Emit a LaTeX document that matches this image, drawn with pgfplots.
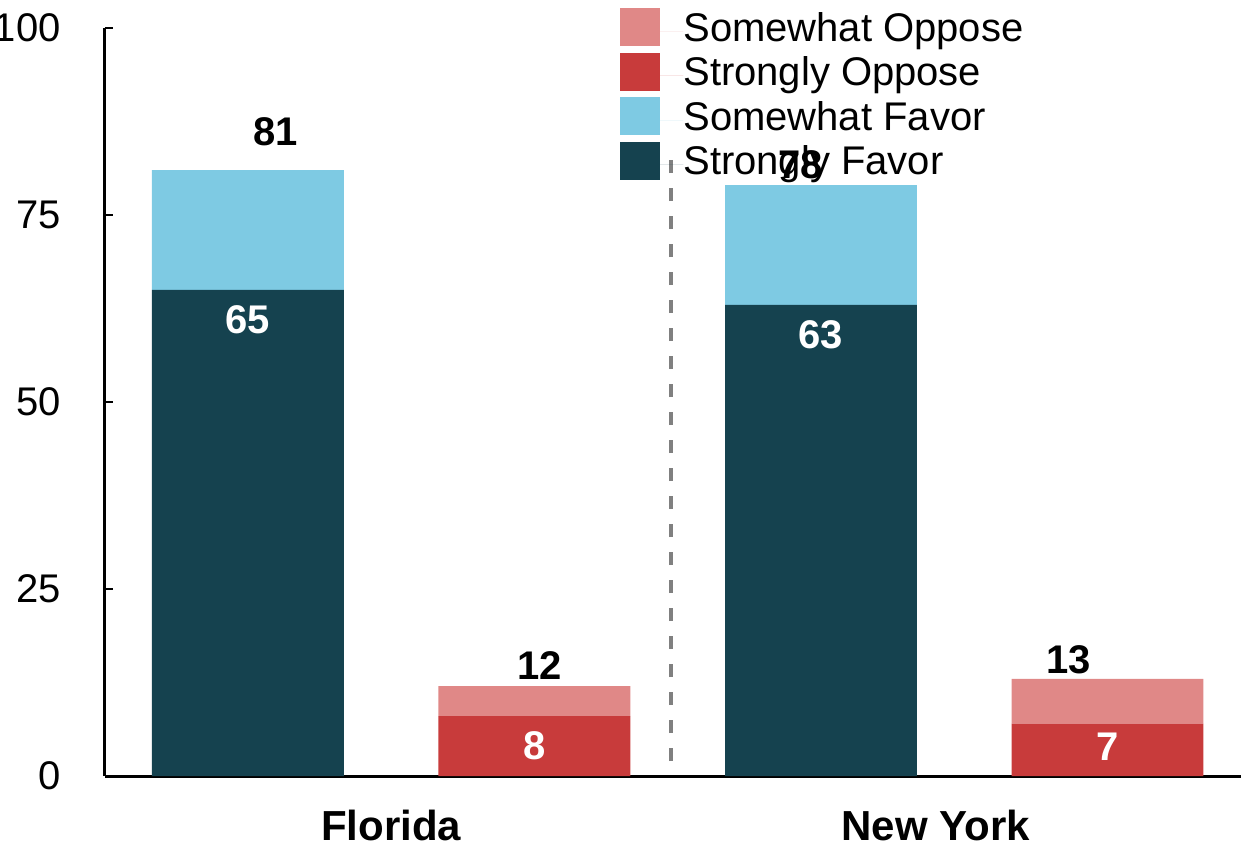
\documentclass[border=0pt]{standalone}
\usepackage{pgfplots}
\usepackage{pgfplotstable}
\pgfplotsset{compat=1.18}
\usepackage{fontspec}
\setmainfont{Liberation Sans}
\definecolor{sfavor}{HTML}{15424F}
\definecolor{wfavor}{HTML}{7ECAE3}
\definecolor{soppose}{HTML}{C83B3B}
\definecolor{woppose}{HTML}{E08887}
\tikzset{lbl/.style={font=\fontsize{20}{24}\selectfont\bfseries}}
\pgfplotstableread{
x y
0 65
1 0
2 63
3 0
}\strongfavor
\pgfplotstableread{
x y
0 16
1 0
2 16
3 0
}\somefavor
\pgfplotstableread{
x y
0 0
1 8
2 0
3 7
}\strongoppose
\pgfplotstableread{
x y
0 0
1 4
2 0
3 6
}\someoppose
\begin{document}
\begin{tikzpicture}
\begin{axis}[
  name=ax,
  scale only axis,
  width=568pt, height=374pt,
  xmin=-0.499, xmax=3.466,
  ymin=0, ymax=100,
  ybar stacked,
  bar width=0.67,
  axis x line*=bottom,
  axis y line*=left,
  axis line style={line width=1.5pt, black},
  ytick={0,25,50,75,100},
  tick align=inside,
  major tick length=4pt,
  ytick style={line width=1pt, black},
  xtick={0.5,2.4},
  xticklabels={Florida,New York},
  xtick style={draw=none},
  xticklabel style={font=\fontsize{21}{24}\selectfont\bfseries, anchor=center, yshift=-24.5pt},
  yticklabel style={font=\fontsize{20}{24}\selectfont, anchor=east, inner sep=0pt, xshift=-22pt},
  /pgf/number format/assume math mode=true,
  clip=false,
  legend style={
    at={(0.4533,1.0267)}, anchor=north west, draw=none, fill=none,
    inner sep=0pt, row sep=1.2pt,
    font=\fontsize{20}{24}\selectfont,
    nodes={inner sep=0pt, text height=14.5pt, text depth=4.5pt},
  },
  legend cell align=left,
  reverse legend,
  legend image code/.code={\fill[#1] (0pt,-7.5pt) rectangle (20pt,11.5pt); \path (0pt,0pt) -- (31.5pt,0pt);},
]
\addplot[fill=sfavor, draw=none] table[x=x, y=y] {\strongfavor};
\addlegendentry{Strongly Favor}
\addplot[fill=wfavor, draw=none] table[x=x, y=y] {\somefavor};
\addlegendentry{Somewhat Favor}
\addplot[fill=soppose, draw=none] table[x=x, y=y] {\strongoppose};
\addlegendentry{Strongly Oppose}
\addplot[fill=woppose, draw=none] table[x=x, y=y] {\someoppose};
\addlegendentry{Somewhat Oppose}
\draw[color=gray, line width=2pt, dash pattern=on 6.5pt off 7.5pt] (axis cs:1.478,2) -- (axis cs:1.478,83);
\coordinate (t81) at (axis cs:0.097,86.1);
\coordinate (t78) at (axis cs:1.929,81.7);
\coordinate (t12) at (axis cs:1.018,14.8);
\coordinate (t13) at (axis cs:2.865,15.5);
\coordinate (s65) at (axis cs:0,61.0);
\coordinate (s63) at (axis cs:2,59.0);
\coordinate (s8) at (axis cs:1,4.0);
\coordinate (s7) at (axis cs:3,3.9);
\end{axis}
\node[lbl] at (t81) {81};
\node[lbl] at (t78) {78};
\node[lbl] at (t12) {12};
\node[lbl] at (t13) {13};
\node[lbl,text=white] at (s65) {65};
\node[lbl,text=white] at (s63) {63};
\node[lbl,text=white] at (s8) {8};
\node[lbl,text=white] at (s7) {7};
\pgfresetboundingbox
\path[use as bounding box] ([xshift=-52.5pt,yshift=-35pt]ax.south west) rectangle ([yshift=14pt]ax.north east);
\end{tikzpicture}
\end{document}
